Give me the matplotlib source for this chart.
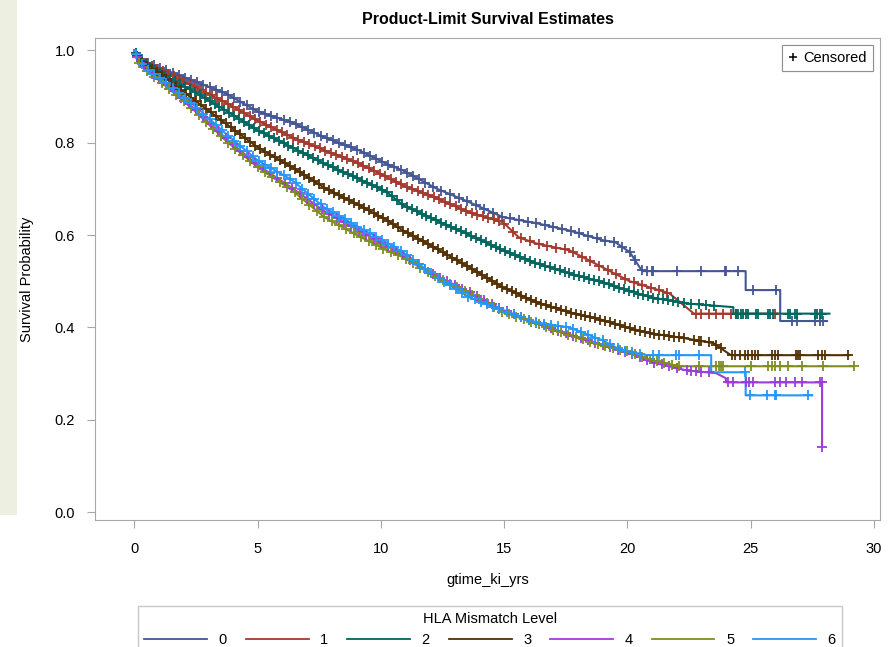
import numpy as np
import matplotlib
matplotlib.use("Agg")
import matplotlib.pyplot as plt
from matplotlib.lines import Line2D
from matplotlib.patches import Rectangle

plt.rcParams['font.family'] = ['Liberation Sans', 'DejaVu Sans']

# --- data (years, survival probability) ---
levels = ['0', '1', '2', '3', '4', '5', '6']
colors = ['#445694', '#A23A2E', '#01665E', '#543005', '#9D3CDB', '#7F8E1F', '#2597FA']

t0 = [0, 0.15, 0.5, 1.0, 2.35, 3.7, 5.0, 6.4, 7.7, 9.1, 10.2, 10.9, 12.25, 13.6, 14.95, 16.3,
      17.65, 19.0, 19.5, 20.1, 20.6, 24.8, 24.8, 26.2, 26.2, 28.1]
s0 = [1.0, 0.985, 0.975, 0.963, 0.935, 0.907, 0.868, 0.844, 0.812, 0.784, 0.755, 0.740, 0.701, 0.671,
      0.639, 0.626, 0.610, 0.589, 0.585, 0.563, 0.522, 0.522, 0.481, 0.481, 0.414, 0.414]

t1 = [0, 0.15, 0.5, 1.0, 2.35, 3.7, 5.0, 6.4, 7.7, 9.1, 10.2, 10.9, 12.25, 13.6, 14.95, 15.6, 16.3,
      17.65, 19.0, 20.1, 21.7, 22.7, 26.1]
s1 = [1.0, 0.983, 0.972, 0.959, 0.924, 0.887, 0.848, 0.812, 0.784, 0.755, 0.727, 0.708, 0.680, 0.649,
      0.628, 0.595, 0.582, 0.567, 0.530, 0.500, 0.474, 0.430, 0.430]

t2 = [0, 0.15, 0.5, 1.0, 2.35, 3.7, 5.0, 6.4, 7.7, 9.1, 10.2, 10.9, 12.25, 13.6, 14.95, 16.3, 17.65,
      19.0, 19.7, 21.0, 22.4, 24.3, 24.3, 28.2]
s2 = [1.0, 0.982, 0.968, 0.952, 0.913, 0.870, 0.827, 0.790, 0.755, 0.722, 0.695, 0.665, 0.632, 0.600,
      0.567, 0.539, 0.517, 0.498, 0.485, 0.465, 0.452, 0.444, 0.430, 0.430]

t3 = [0, 0.15, 0.5, 1.0, 2.35, 3.7, 5.0, 6.4, 7.7, 9.1, 10.2, 10.9, 12.25, 13.6, 14.95, 16.3, 17.65,
      19.0, 20.1, 21.0, 22.4, 23.5, 23.9, 24.2, 29.0]
s3 = [1.0, 0.982, 0.966, 0.950, 0.896, 0.842, 0.790, 0.747, 0.703, 0.665, 0.634, 0.610, 0.571, 0.530,
      0.487, 0.455, 0.433, 0.416, 0.398, 0.387, 0.376, 0.366, 0.351, 0.340, 0.340]

t4 = [0, 0.15, 0.5, 1.0, 2.35, 3.7, 5.0, 6.4, 7.7, 9.1, 10.2, 10.9, 12.25, 13.6, 14.95, 16.3, 17.65,
      19.0, 20.1, 21.0, 22.4, 23.6, 24.0, 24.0, 27.9, 27.9]
s4 = [1.0, 0.978, 0.958, 0.938, 0.878, 0.810, 0.752, 0.702, 0.652, 0.610, 0.578, 0.556, 0.512, 0.476,
      0.438, 0.410, 0.385, 0.362, 0.344, 0.325, 0.307, 0.301, 0.290, 0.281, 0.281, 0.141]

t5 = [0, 0.15, 0.5, 1.0, 2.35, 3.7, 5.0, 6.4, 7.7, 9.1, 10.2, 10.9, 12.25, 13.6, 14.95, 16.3, 17.65,
      19.0, 20.1, 21.0, 22.1, 29.2]
s5 = [1.0, 0.976, 0.955, 0.935, 0.874, 0.805, 0.747, 0.697, 0.639, 0.598, 0.568, 0.552, 0.509, 0.474,
      0.433, 0.409, 0.383, 0.361, 0.347, 0.329, 0.316, 0.316]

t6 = [0, 0.15, 0.5, 1.0, 2.35, 3.7, 5.0, 6.4, 7.7, 9.1, 10.2, 10.9, 12.25, 13.6, 14.95, 16.3, 17.65,
      19.0, 19.7, 20.8, 23.4, 23.4, 24.8, 24.8, 27.5]
s6 = [1.0, 0.978, 0.960, 0.942, 0.885, 0.820, 0.762, 0.719, 0.660, 0.617, 0.585, 0.563, 0.509, 0.465,
      0.437, 0.411, 0.400, 0.372, 0.352, 0.340, 0.340, 0.303, 0.303, 0.253, 0.253]

# censoring times (marks sit on the curve)
c0 = [0.05, 0.3, 0.55, 0.8, 1.05, 1.3, 1.55, 1.8, 2.05, 2.3, 2.55, 2.8, 3.05, 3.3, 3.55, 3.8,
      4.05, 4.3, 4.55, 4.8, 5.05, 5.3, 5.55, 5.8, 6.05, 6.3, 6.55, 6.8, 7.05, 7.3, 7.55, 7.8,
      8.05, 8.3, 8.55, 8.8, 9.05, 9.3, 9.55, 9.8, 10.05, 10.3, 10.55, 10.8, 11.05, 11.3, 11.55,
      11.8, 12.1, 12.45, 12.8, 13.15, 13.5, 13.85, 14.2, 14.55, 14.9, 15.25, 15.6, 15.95, 16.3,
      16.65, 17.0, 17.35, 17.7, 18.05, 18.4, 18.75, 19.1, 19.45, 19.8, 20.1, 20.3, 20.58, 20.78,
      20.98, 21.05, 22.0, 23.0, 23.96, 24.02, 24.5, 25.1, 26.05, 26.66, 26.9, 27.6, 27.8, 27.93]
c1 = [0.05, 0.27, 0.49, 0.71, 0.93, 1.15, 1.37, 1.59, 1.81, 2.03, 2.25, 2.47, 2.69, 2.91, 3.13,
      3.35, 3.57, 3.79, 4.01, 4.23, 4.45, 4.67, 4.89, 5.11, 5.33, 5.55, 5.77, 5.99, 6.21, 6.43,
      6.65, 6.87, 7.09, 7.31, 7.53, 7.75, 7.97, 8.19, 8.41, 8.63, 8.85, 9.07, 9.29, 9.51, 9.73,
      9.95, 10.17, 10.39, 10.61, 10.83, 11.05, 11.27, 11.49, 11.71, 11.93, 12.15, 12.37, 12.59,
      12.81, 13.03, 13.25, 13.47, 13.69, 13.91, 14.13, 14.35, 14.57, 14.79, 15.01, 15.35, 15.7,
      16.05, 16.4, 16.75, 17.1, 17.45, 17.8, 18.15, 18.5, 18.85, 19.2, 19.55, 19.9, 20.25, 20.6,
      20.95, 21.3, 21.6, 22.8, 23.0, 23.3, 23.6, 23.9, 24.2, 24.4, 26.0]
c2 = [0.05, 0.25, 0.45, 0.65, 0.85, 1.05, 1.25, 1.45, 1.65, 1.85, 2.05, 2.25, 2.45, 2.65, 2.85,
      3.05, 3.25, 3.45, 3.65, 3.85, 4.05, 4.25, 4.45, 4.65, 4.85, 5.05, 5.25, 5.45, 5.65, 5.85,
      6.05, 6.25, 6.45, 6.65, 6.85, 7.05, 7.25, 7.45, 7.65, 7.85, 8.05, 8.25, 8.45, 8.65, 8.85,
      9.05, 9.25, 9.45, 9.65, 9.85, 10.05, 10.25, 10.45, 10.65, 10.85, 11.05, 11.25, 11.45, 11.65,
      11.85, 12.05, 12.25, 12.45, 12.65, 12.85, 13.05, 13.25, 13.45, 13.65, 13.85, 14.05, 14.25,
      14.45, 14.65, 14.85, 15.05, 15.25, 15.45, 15.65, 15.85, 16.05, 16.25, 16.45, 16.65, 16.85,
      17.05, 17.25, 17.45, 17.65, 17.85, 18.05, 18.25, 18.45, 18.65, 18.85, 19.05, 19.25, 19.45,
      19.65, 19.85, 20.05, 20.25, 20.45, 20.65, 20.85, 21.05, 21.25, 21.45, 21.65, 21.85, 22.05,
      22.3, 22.6, 22.9, 23.2, 23.5, 24.4, 24.5, 24.6, 24.7, 24.8, 24.9, 25.2, 25.3, 25.7, 25.8,
      25.9, 26.5, 26.6, 26.8, 26.9, 27.6, 27.7, 27.8, 27.9]
c3 = [0.1, 0.3, 0.5, 0.7, 0.9, 1.1, 1.3, 1.5, 1.7, 1.9, 2.1, 2.3, 2.5, 2.7, 2.9, 3.1, 3.3, 3.5,
      3.7, 3.9, 4.1, 4.3, 4.5, 4.7, 4.9, 5.1, 5.3, 5.5, 5.7, 5.9, 6.1, 6.3, 6.5, 6.7, 6.9, 7.1,
      7.3, 7.5, 7.7, 7.9, 8.1, 8.3, 8.5, 8.7, 8.9, 9.1, 9.3, 9.5, 9.7, 9.9, 10.1, 10.3, 10.5,
      10.7, 10.9, 11.1, 11.3, 11.5, 11.7, 11.9, 12.1, 12.3, 12.5, 12.7, 12.9, 13.1, 13.3, 13.5,
      13.7, 13.9, 14.1, 14.3, 14.5, 14.7, 14.9, 15.1, 15.3, 15.5, 15.7, 15.9, 16.1, 16.3, 16.5,
      16.7, 16.9, 17.1, 17.3, 17.5, 17.7, 17.9, 18.1, 18.3, 18.5, 18.7, 18.9, 19.1, 19.3, 19.5,
      19.7, 19.9, 20.1, 20.3, 20.5, 20.7, 20.9, 21.1, 21.3, 21.5, 21.7, 21.9, 22.1, 22.3, 22.7,
      22.9, 23.0, 23.3, 23.6, 23.8, 24.23, 24.35, 24.57, 24.77, 24.9, 25.04, 25.17, 25.31,
      25.85, 25.98, 26.12, 26.86, 26.93, 27.0, 27.74, 27.88, 28.01, 28.95]
c4 = [0.1, 0.4, 0.7, 1.0, 1.3, 1.6, 1.9, 2.2, 2.5, 2.8, 3.1, 3.4, 3.7, 4.0, 4.3, 4.6, 4.9, 5.2,
      5.5, 5.8, 6.1, 6.4, 6.7, 7.0, 7.3, 7.6, 7.9, 8.2, 8.5, 8.8, 9.1, 9.4, 9.7, 10.0, 10.3,
      10.6, 10.9, 11.2, 11.5, 11.8, 12.1, 12.4, 12.7, 13.0, 13.3, 13.6, 13.9, 14.2, 14.5, 14.8,
      15.1, 15.4, 15.7, 16.0, 16.3, 16.6, 16.9, 17.2, 17.5, 17.8, 18.1, 18.4, 18.7, 19.0, 19.3,
      19.6, 19.9, 20.2, 20.5, 20.8, 21.1, 21.4, 21.7, 22.0, 22.4, 22.6, 22.8, 23.0, 23.3, 24.09,
      24.3, 24.8, 24.95, 25.1, 25.98, 26.2, 26.45, 26.8, 27.07, 27.8, 27.88, 27.9]
c5 = [0.2, 0.5, 0.8, 1.1, 1.4, 1.7, 2.0, 2.3, 2.6, 2.9, 3.2, 3.5, 3.8, 4.1, 4.4, 4.7, 5.0, 5.3,
      5.6, 5.9, 6.2, 6.5, 6.8, 7.1, 7.4, 7.7, 8.0, 8.3, 8.6, 8.9, 9.2, 9.5, 9.8, 10.1, 10.4,
      10.7, 11.0, 11.3, 11.6, 11.9, 12.2, 12.5, 12.8, 13.1, 13.4, 13.7, 14.0, 14.3, 14.6, 14.9,
      15.2, 15.5, 15.8, 16.1, 16.4, 16.7, 17.0, 17.3, 17.6, 17.9, 18.2, 18.5, 18.8, 19.1, 19.4,
      19.7, 20.0, 20.3, 20.6, 20.9, 21.2, 21.5, 21.8, 22.1, 22.9, 23.6, 23.7, 23.8, 23.9, 25.0,
      25.7, 25.85, 26.0, 26.2, 26.5, 27.07, 27.95, 29.2]
c6 = [0.05, 0.3, 0.55, 0.8, 1.05, 1.3, 1.55, 1.8, 2.05, 2.3, 2.55, 2.8, 3.05, 3.3, 3.55, 3.8,
      4.05, 4.3, 4.55, 4.8, 5.05, 5.3, 5.55, 5.8, 6.05, 6.3, 6.55, 6.8, 7.05, 7.3, 7.55, 7.8,
      8.05, 8.3, 8.55, 8.8, 9.05, 9.3, 9.55, 9.8, 10.05, 10.3, 10.55, 10.8, 11.05, 11.3, 11.55,
      11.8, 12.05, 12.3, 12.55, 12.8, 13.05, 13.3, 13.55, 13.8, 14.05, 14.3, 14.55, 14.8, 15.1,
      15.4, 15.7, 16.0, 16.3, 16.6, 16.9, 17.2, 17.5, 17.8, 18.1, 18.4, 18.7, 19.0, 19.3, 19.6,
      19.9, 20.2, 20.5, 21.05, 21.3, 21.99, 22.1, 22.9, 24.77, 24.97, 25.65, 25.98, 26.05, 27.33]

times = [t0, t1, t2, t3, t4, t5, t6]
survs = [s0, s1, s2, s3, s4, s5, s6]
cens = [c0, c1, c2, c3, c4, c5, c6]

fig = plt.figure(figsize=(8.9, 6.47), dpi=100)
# light side strip behind everything
fig.patches.append(Rectangle((0, 1 - 515 / 647), 17 / 890, 515 / 647, transform=fig.transFigure,
                             facecolor='#edefe0', edgecolor='none', zorder=-5))
ax = fig.add_axes([95 / 890, 1 - 520 / 647, 785 / 890, 482 / 647])

for t, s, c, col in zip(times, survs, cens, colors):
    t = np.array(t)
    s = np.array(s)
    ax.plot(t, s, color=col, lw=1.5, zorder=2)
    c = np.array(c)
    # survival level at the censor time
    idx = np.searchsorted(t, c, side='right') - 1
    nxt = np.minimum(idx + 1, len(t) - 1)
    frac = np.where(t[nxt] > t[idx], (c - t[idx]) / np.maximum(t[nxt] - t[idx], 1e-9), 0)
    yc = s[idx] + frac * (s[nxt] - s[idx])
    ax.plot(c, yc, ls='none', marker='+', ms=6.5, mew=1.3, color=col, zorder=3)

ax.set_xlim(-1.6, 30.25)
ax.set_ylim(-0.017, 1.027)
ax.set_xticks([0, 5, 10, 15, 20, 25, 30])
ax.set_yticks([0.0, 0.2, 0.4, 0.6, 0.8, 1.0])
ax.set_yticklabels(['0.0', '0.2', '0.4', '0.6', '0.8', '1.0'])
for sp in ax.spines.values():
    sp.set_color('#a8a8a8')
ax.tick_params(colors='#a8a8a8', labelcolor='black', length=6, labelsize=10.5)
ax.tick_params(axis='x', pad=10)
ax.tick_params(axis='y', pad=8.5)
ax.set_xlabel('gtime_ki_yrs', fontsize=10.5, labelpad=12)
ax.set_ylabel('Survival Probability', fontsize=10.5, labelpad=15)
ax.set_title('Product-Limit Survival Estimates', fontsize=11.5, fontweight='bold', pad=10)

# censored key
cens_key = Line2D([], [], ls='none', marker='+', color='black', ms=6, mew=1.1)
leg1 = ax.legend([cens_key], ['Censored'], loc='upper right', fontsize=10.5, handlelength=0.7,
                 handletextpad=0.35, borderpad=0.4, fancybox=False, framealpha=1,
                 edgecolor='#909090', bbox_to_anchor=(0.991, 0.9855), borderaxespad=0)
leg1.get_frame().set_linewidth(0.8)
ax.add_artist(leg1)

handles = [Line2D([], [], color=col, lw=1.3) for col in colors]
leg2 = fig.legend(handles, levels, title='HLA Mismatch Level', ncol=7, loc='upper center',
                  bbox_to_anchor=(490 / 890, 1 - 599 / 647), fontsize=10.5, title_fontsize=10.5,
                  handlelength=4.3, handletextpad=0.8, columnspacing=1.3, fancybox=False,
                  edgecolor='#c8c8c8', borderpad=0.4, framealpha=1)

fig.savefig('out.png', dpi=100)
